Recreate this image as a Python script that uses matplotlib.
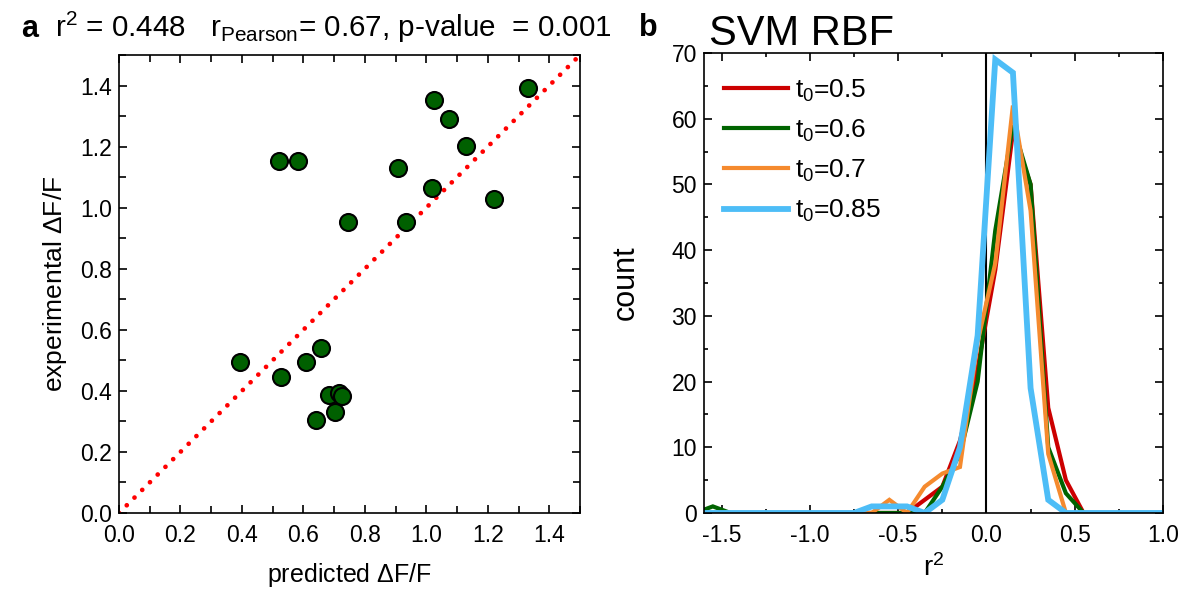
import matplotlib.pyplot as plt
from matplotlib.ticker import MultipleLocator

plt.rcParams['font.family'] = ['Liberation Sans', 'DejaVu Sans']
plt.rcParams['mathtext.fontset'] = 'custom'
plt.rcParams['mathtext.rm'] = 'Liberation Sans'
plt.rcParams['mathtext.it'] = 'Liberation Sans:italic'

# panel a: predicted vs experimental dF/F
predicted = [1.332, 1.025, 1.073, 1.130, 0.520, 0.584, 0.908, 1.020, 1.220, 0.744,
             0.934, 0.657, 0.394, 0.610, 0.526, 0.682, 0.716, 0.726, 0.704, 0.640]
experimental = [1.391, 1.353, 1.291, 1.202, 1.153, 1.153, 1.129, 1.063, 1.027, 0.953,
                0.953, 0.540, 0.495, 0.494, 0.446, 0.388, 0.392, 0.383, 0.331, 0.304]

# panel b: r^2 histograms (bin centres)
r2_bins = [-1.65, -1.55, -1.45, -1.35, -1.25, -1.15, -1.05, -0.95, -0.85, -0.75,
           -0.65, -0.55, -0.45, -0.35, -0.25, -0.15, -0.05, 0.05, 0.15, 0.25,
           0.35, 0.45, 0.55, 0.65, 0.75, 0.85, 0.95, 1.05]
count_05 = [0, 0, 0, 0, 0, 0, 0, 0, 0, 0, 0, 0, 0, 2, 4, 11, 22, 37, 58, 50, 16, 5, 0, 0, 0, 0, 0, 0]
count_06 = [0, 1, 0, 0, 0, 0, 0, 0, 0, 0, 0, 0, 0, 0, 4, 9, 20, 43, 59, 50, 10, 3, 0, 0, 0, 0, 0, 0]
count_07 = [0, 0, 0, 0, 0, 0, 0, 0, 0, 0, 0, 2, 0, 4, 6, 7, 26, 38, 62, 46, 9, 0, 0, 0, 0, 0, 0, 0]
count_085 = [0, 0, 0, 0, 0, 0, 0, 0, 0, 0, 1, 1, 1, 0, 2, 10, 27, 69, 67, 19, 2, 0, 0, 0, 0, 0, 0, 0]
labels = ['t$_0$=0.5', 't$_0$=0.6', 't$_0$=0.7', 't$_0$=0.85']
colors = ['#cc0000', '#006400', '#f58a2e', '#4dbdf7']

fig = plt.figure(figsize=(11.9, 5.94), dpi=100)

# ---- panel a
ax1 = fig.add_axes([0.100, 0.1364, 0.3874, 0.771])
ax1.plot([0, 1.5], [0, 1.5], color='red', lw=3.4, dashes=(0.01, 2.3),
         dash_capstyle='round', zorder=2)
ax1.scatter(predicted, experimental, s=150, color='#006000', edgecolor='black',
            linewidth=1.5, zorder=3)
ax1.set_xlim(0, 1.5)
ax1.set_ylim(0, 1.5)
ax1.xaxis.set_major_locator(MultipleLocator(0.2))
ax1.xaxis.set_minor_locator(MultipleLocator(0.1))
ax1.yaxis.set_major_locator(MultipleLocator(0.2))
ax1.yaxis.set_minor_locator(MultipleLocator(0.1))
ax1.xaxis.set_major_formatter(plt.FormatStrFormatter('%.1f'))
ax1.yaxis.set_major_formatter(plt.FormatStrFormatter('%.1f'))
ax1.tick_params(which='both', direction='in', top=True, right=True, width=1.2)
ax1.tick_params(which='major', length=6, labelsize=16.5)
ax1.tick_params(axis='x', which='major', pad=8)
ax1.tick_params(axis='y', which='major', pad=5)
ax1.tick_params(which='minor', length=5)
ax1.set_xlabel('predicted $\\Delta$F/F', fontsize=18, labelpad=10)
ax1.set_ylabel('experimental $\\Delta$F/F', fontsize=19, labelpad=8)
for sp in ax1.spines.values():
    sp.set_linewidth(1.2)

fig.text(0.018, 0.938, 'a', fontsize=22, fontweight='bold')
fig.text(0.046, 0.938,
         'r$\\mathregular{^2}$ = 0.448   r$_{\\mathregular{Pearson}}$= 0.67, p-value  = 0.001',
         fontsize=21.3)

# ---- panel b
ax2 = fig.add_axes([0.5916, 0.1364, 0.3857, 0.7744])
for ys, lab, col in zip([count_05, count_06, count_07, count_085], labels, colors):
    lw = 4.2 if col == colors[3] else 3.0
    ax2.plot(r2_bins, ys, color=col, lw=lw, label=lab, solid_joinstyle='miter')
ax2.axvline(0, color='black', lw=1.5, zorder=0)
ax2.set_xlim(-1.6, 1.0)
ax2.set_ylim(0, 70)
ax2.xaxis.set_major_locator(MultipleLocator(0.5))
ax2.xaxis.set_minor_locator(MultipleLocator(0.25))
ax2.yaxis.set_major_locator(MultipleLocator(10))
ax2.yaxis.set_minor_locator(MultipleLocator(5))
ax2.xaxis.set_major_formatter(plt.FormatStrFormatter('%.1f'))
ax2.tick_params(which='both', direction='in', top=True, right=True, width=1.2)
ax2.tick_params(which='major', length=6, labelsize=16.5)
ax2.tick_params(axis='x', which='major', pad=8)
ax2.tick_params(axis='y', which='major', pad=5)
ax2.tick_params(which='minor', length=3)
ax2.set_xlabel('r$\\mathregular{^2}$', fontsize=20, labelpad=5)
ax2.set_ylabel('count', fontsize=22, labelpad=22)
for sp in ax2.spines.values():
    sp.set_linewidth(1.2)
ax2.legend(loc='upper left', frameon=False, fontsize=19, handlelength=2.45,
           labelspacing=0.53, handletextpad=0.25, borderaxespad=0.0,
           bbox_to_anchor=(0.02, 0.97))

fig.text(0.537, 0.94, 'b', fontsize=22, fontweight='bold')
fig.text(0.596, 0.925, 'SVM RBF', fontsize=30)

fig.savefig('out.png', dpi=100)
